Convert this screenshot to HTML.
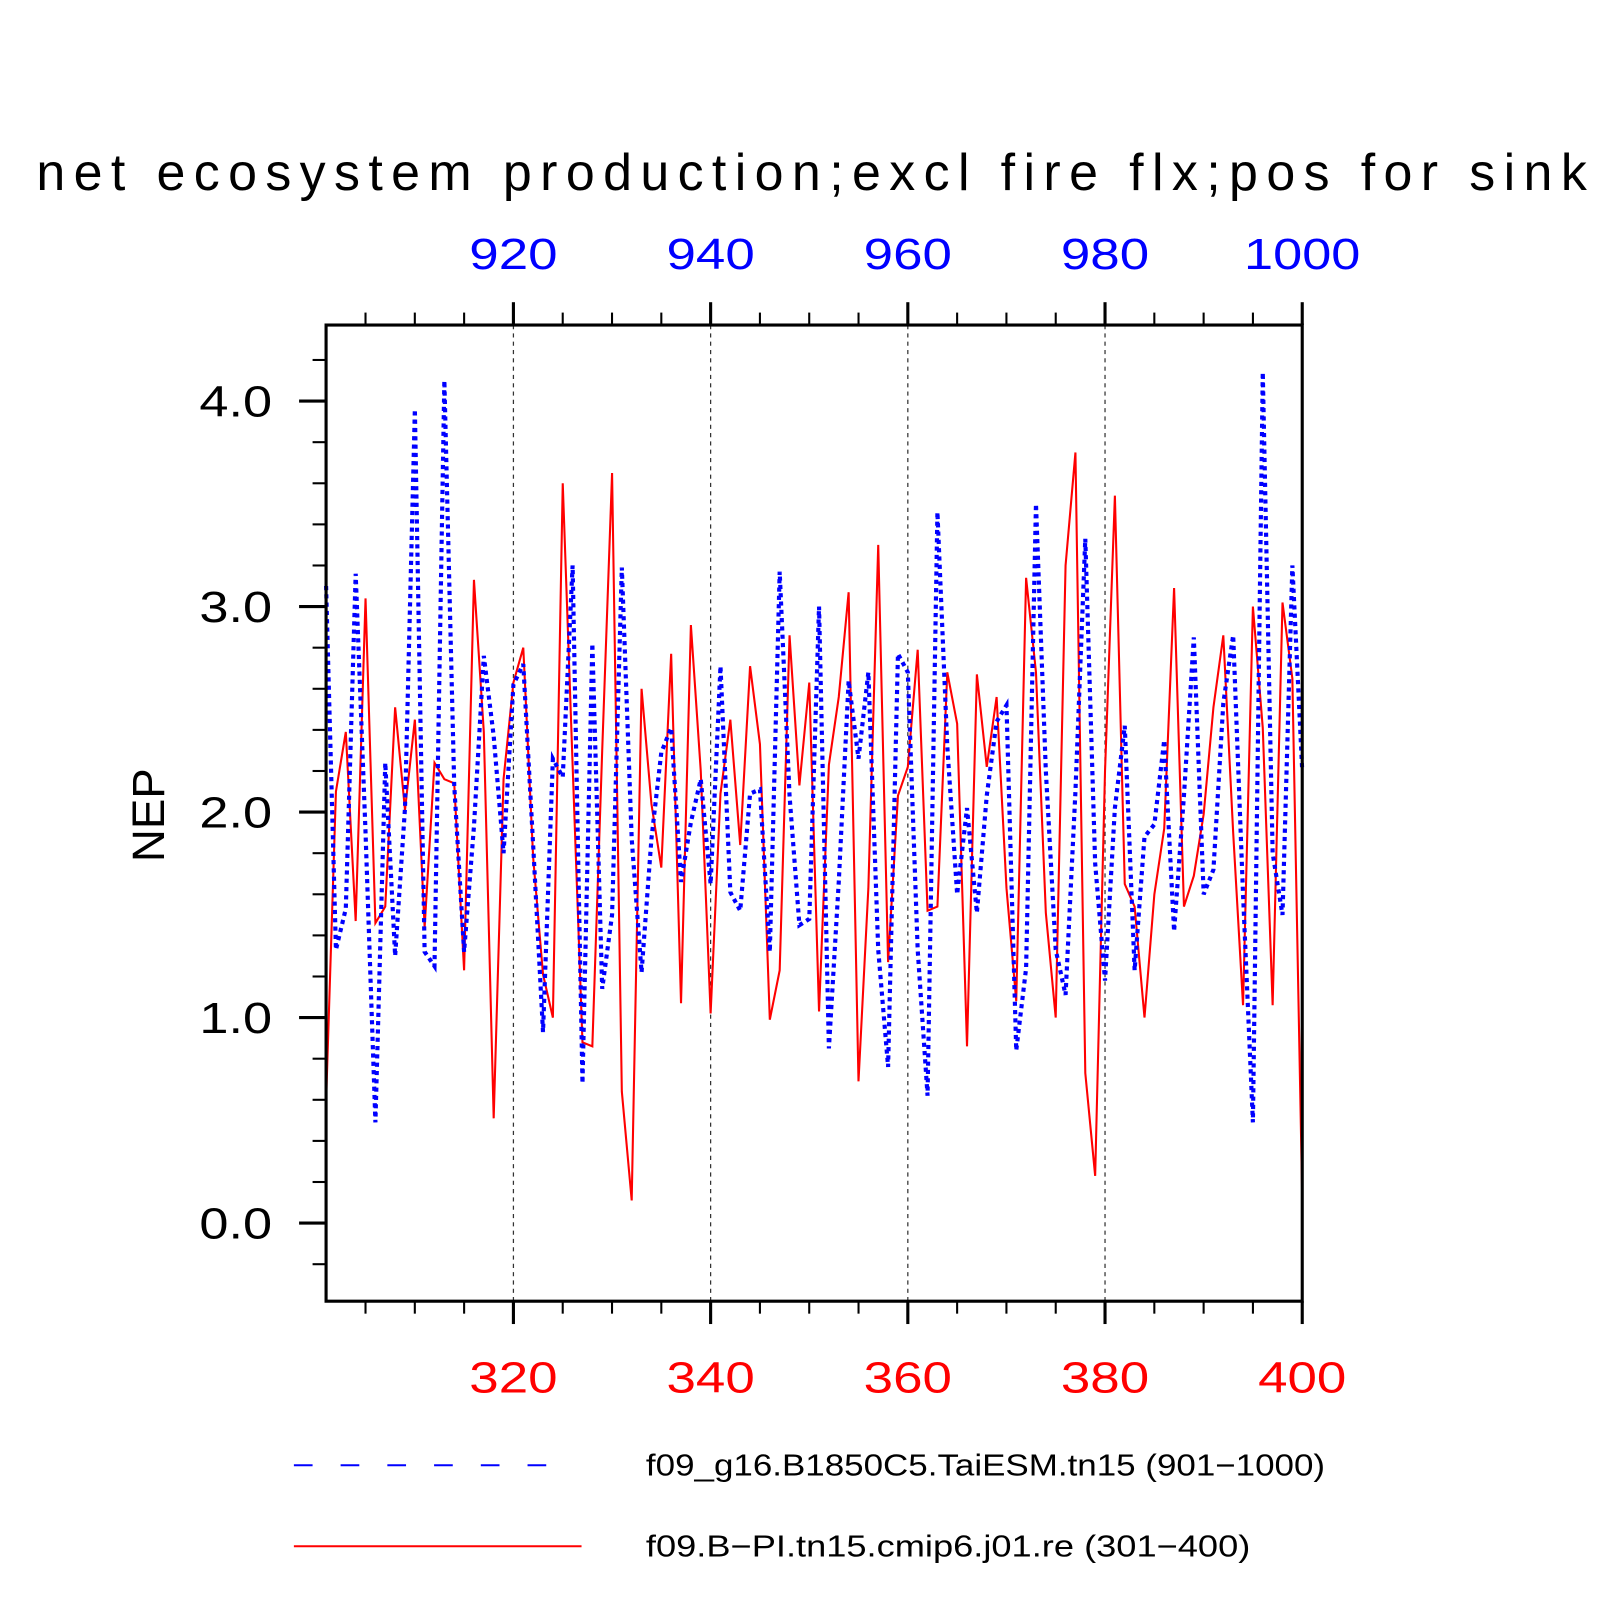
<!DOCTYPE html>
<html><head><meta charset="utf-8"><style>
html,body{margin:0;padding:0;background:#fff;}
svg{display:block;font-family:"Liberation Sans",sans-serif;}
</style></head><body>
<svg id="chart" width="1620" height="1620" viewBox="0 0 1560 1560" xmlns="http://www.w3.org/2000/svg">
<text x="35" y="183" font-size="50" textLength="1493" lengthAdjust="spacing" fill="#000">net ecosystem production;excl fire flx;pos for sink</text>
<text transform="translate(158,785) rotate(-90)" font-size="44" text-anchor="middle" fill="#000">NEP</text>
<g id="grid"></g>
<g id="series"></g>
<rect x="314" y="313" width="940" height="940" fill="none" stroke="#000" stroke-width="3"/>
<g id="axes"></g>
<g>
<line x1="283" y1="1411" x2="545" y2="1411" stroke="#0000ff" stroke-width="2" stroke-dasharray="18 27"/>
<text x="622" y="1421" font-size="29" textLength="654" lengthAdjust="spacingAndGlyphs" fill="#000">f09_g16.B1850C5.TaiESM.tn15 (901−1000)</text>
<line x1="283" y1="1489" x2="560" y2="1489" stroke="#ff0000" stroke-width="2"/>
<text x="622" y="1499" font-size="29" textLength="582" lengthAdjust="spacingAndGlyphs" fill="#000">f09.B−PI.tn15.cmip6.j01.re (301−400)</text>
</g>
</svg>
<script>
const yearsRed = [301,302,303,304,305,306,307,308,309,310,311,312,313,314,315,316,317,318,319,320,321,322,323,324,325,326,327,328,329,330,331,332,333,334,335,336,337,338,339,340,341,342,343,344,345,346,347,348,349,350,351,352,353,354,355,356,357,358,359,360,361,362,363,364,365,366,367,368,369,370,371,372,373,374,375,376,377,378,379,380,381,382,383,384,385,386,387,388,389,390,391,392,393,394,395,396,397,398,399,400];
const redValues = [0.59,2.10,2.39,1.47,3.04,1.46,1.54,2.51,2.01,2.45,1.44,2.24,2.16,2.14,1.23,3.13,2.39,0.51,2.16,2.63,2.80,1.78,1.21,1.00,3.60,2.23,0.88,0.86,2.30,3.65,0.64,0.11,2.60,2.04,1.73,2.77,1.07,2.91,2.20,1.02,2.09,2.45,1.84,2.71,2.33,0.99,1.23,2.86,2.13,2.63,1.03,2.23,2.56,3.07,0.69,1.63,3.30,1.27,2.08,2.22,2.79,1.52,1.54,2.68,2.43,0.86,2.67,2.22,2.56,1.63,1.08,3.14,2.68,1.51,1.00,3.20,3.75,0.73,0.23,2.20,3.54,1.65,1.54,1.00,1.60,1.92,3.09,1.54,1.69,1.99,2.51,2.86,1.90,1.06,3.00,2.41,1.06,3.02,2.65,0.12];
const blueValues = [3.10,1.33,1.53,3.16,1.90,0.49,2.24,1.30,2.02,3.96,1.32,1.25,4.10,2.13,1.32,1.93,2.76,2.37,1.80,2.62,2.72,1.84,0.93,2.26,2.17,3.20,0.68,2.82,1.14,1.50,3.19,1.87,1.22,1.87,2.29,2.41,1.66,1.95,2.16,1.65,2.71,1.61,1.52,2.09,2.11,1.32,3.17,2.08,1.45,1.48,3.00,0.85,1.66,2.64,2.26,2.68,1.33,0.76,2.77,2.68,1.33,0.62,3.46,2.32,1.60,2.02,1.51,2.08,2.44,2.52,0.84,1.24,3.50,2.20,1.33,1.11,2.10,3.33,1.75,1.18,2.02,2.42,1.23,1.88,1.94,2.35,1.42,2.08,2.85,1.60,1.72,2.53,2.86,1.60,0.49,4.14,1.80,1.50,3.20,2.20];
const bottomTicks = [320,340,360,380,400];
const topTickLabels = ["920","940","960","980","1000"];
const yTicks = [0,1,2,3,4];
const yTickLabels = ["0.0","1.0","2.0","3.0","4.0"];

const NS = "http://www.w3.org/2000/svg";
const X0 = 314, X1 = 1254, Y0 = 1253, Y1 = 313;
const xMin = 301, xMax = 400, yMin = -0.38, yMax = 4.37;
function xs(v){ return X0 + (v - xMin) / (xMax - xMin) * (X1 - X0); }
function ys(v){ return Y0 - (v - yMin) / (yMax - yMin) * (Y0 - Y1); }
function mk(tag, attrs, parent){ const e = document.createElementNS(NS, tag); for (const k in attrs) e.setAttribute(k, attrs[k]); parent.appendChild(e); return e; }

const grid = document.getElementById('grid');
const axes = document.getElementById('axes');
const series = document.getElementById('series');

bottomTicks.forEach(function(t){
  if (t < xMax) {
    const g = mk('line', {x1: xs(t), x2: xs(t), y1: Y1, y2: Y0, stroke: '#333', 'stroke-width': 1.2, 'stroke-dasharray': '4 4'}, grid);
    
    
  }
});

for (let v = 305; v <= 400; v += 5) {
  const major = (v % 20 === 0);
  const len = major ? 22 : 12;
  const tb = mk('line', {x1: xs(v), x2: xs(v), y1: Y0, y2: Y0 + len, stroke: '#000', 'stroke-width': major ? 3 : 2}, axes);
  
  
  const tt = mk('line', {x1: xs(v), x2: xs(v), y1: Y1, y2: Y1 - len, stroke: '#000', 'stroke-width': major ? 3 : 2}, axes);
  
  
}
bottomTicks.forEach(function(t, i){
  const lb = mk('text', {x: xs(t), y: 1341, 'font-size': 42, 'text-anchor': 'middle', fill: '#ff0000', textLength: 85, lengthAdjust: 'spacingAndGlyphs'}, axes);
  lb.textContent = String(t);
  
  
  const lt = mk('text', {x: xs(t), y: 259, 'font-size': 42, 'text-anchor': 'middle', fill: '#0000ff', textLength: topTickLabels[i].length > 3 ? 112 : 85, lengthAdjust: 'spacingAndGlyphs'}, axes);
  lt.textContent = topTickLabels[i];
  
  
});
for (let k = -1; k <= 21; k++) {
  const v = k * 0.2;
  if (v < yMin || v > yMax) continue;
  const major = (k % 5 === 0);
  const tl = mk('line', {x1: X0, x2: X0 - (major ? 26 : 13), y1: ys(v), y2: ys(v), stroke: '#000', 'stroke-width': major ? 3 : 2}, axes);
  
  
}
yTicks.forEach(function(t, i){
  const l = mk('text', {x: 262, y: ys(t) + 15, 'font-size': 42, 'text-anchor': 'end', fill: '#000', textLength: 70, lengthAdjust: 'spacingAndGlyphs'}, axes);
  l.textContent = yTickLabels[i];
  
  
});

function pts(vals){ return vals.map(function(v, i){ return xs(yearsRed[i]).toFixed(1) + ',' + ys(v).toFixed(1); }).join(' '); }
const red = mk('polyline', {points: pts(redValues), fill: 'none', stroke: '#ff0000', 'stroke-width': 2, 'stroke-linejoin': 'miter'}, series);


const blue = mk('polyline', {points: pts(blueValues), fill: 'none', stroke: '#0000ff', 'stroke-width': 4, 'stroke-dasharray': '4 4'}, series);


</script>
</body></html>
